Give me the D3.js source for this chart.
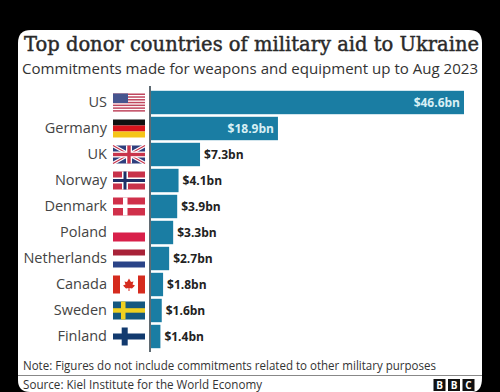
<!DOCTYPE html>
<html>
<head>
<meta charset="utf-8">
<script src="https://cdn.jsdelivr.net/npm/d3@7"></script>
<style>
html, body { margin: 0; background: #000; }
svg { display: block; }
text { font-family: "Open Sans", "Noto Sans", sans-serif; }
</style>
</head>
<body>
<svg width="500" height="392"></svg>
<script>
const countries = ["US", "Germany", "UK", "Norway", "Denmark", "Poland", "Netherlands", "Canada", "Sweden", "Finland"];
const values = [46.6, 18.9, 7.3, 4.1, 3.9, 3.3, 2.7, 1.8, 1.6, 1.4];
const valueLabels = ["$46.6bn", "$18.9bn", "$7.3bn", "$4.1bn", "$3.9bn", "$3.3bn", "$2.7bn", "$1.8bn", "$1.6bn", "$1.4bn"];

const svg = d3.select("svg");

// white card
svg.append("path")
  .attr("d", "M18,43 Q18,30 31,30 L469,30 Q482,30 482,43 L482,378 Q482,392 472,392 L30,392 Q18,392 18,380 Z")
  .attr("fill", "#fff");

svg.append("text").attr("x", 24).attr("y", 51)
  .attr("font-size", 20).attr("fill", "#2a2a2a")
  .attr("stroke", "#2a2a2a").attr("stroke-width", 0.45)
  .style("font-family", "'DejaVu Serif', serif")
  .attr("textLength", 455).attr("lengthAdjust", "spacingAndGlyphs")
  .text("Top donor countries of military aid to Ukraine");

svg.append("text").attr("x", 22).attr("y", 73.5)
  .attr("font-size", 14.5).attr("fill", "#333")
  .attr("textLength", 456).attr("lengthAdjust", "spacingAndGlyphs")
  .text("Commitments made for weapons and equipment up to Aug 2023");

const x = d3.scaleLinear().domain([0, 46.6]).range([151, 464]);
const y = d3.scaleBand().domain(countries).range([89.5, 349.5]).paddingInner(0.1).paddingOuter(0.05);

const rows = countries.map((c, i) => ({ country: c, value: values[i], label: valueLabels[i] }));

svg.selectAll(".bar")
  .data(rows)
  .join("rect")
  .attr("class", "bar")
  .attr("x", x(0))
  .attr("y", d => y(d.country))
  .attr("width", d => x(d.value) - x(0))
  .attr("height", y.bandwidth())
  .attr("fill", "#1a7da3");

svg.selectAll(".value")
  .data(rows)
  .join("text")
  .attr("class", "value")
  .attr("x", d => d.value > 10 ? x(d.value) - 4 : x(d.value) + 4)
  .attr("y", d => y(d.country) + y.bandwidth() / 2)
  .attr("dy", "0.35em")
  .attr("text-anchor", d => d.value > 10 ? "end" : "start")
  .attr("font-size", 12)
  .attr("font-weight", 700)
  .attr("fill", d => d.value > 10 ? "#d8f0f5" : "#222")
  .text(d => d.label);

const axis = svg.append("g")
  .attr("transform", "translate(150,0)")
  .call(d3.axisLeft(y).tickSize(0).tickPadding(43));
axis.select(".domain").attr("stroke", "#2a3a44").attr("stroke-width", 1.5).attr("d", "M0,86V352");
axis.selectAll("text").attr("font-size", 14.5).attr("fill", "#444")
  .style("font-family", "'Open Sans', sans-serif");

// flags, each drawn in a 32x18 box
const rect = (g, a, b, w, h, fill) => g.append("rect").attr("x", a).attr("y", b).attr("width", w).attr("height", h).attr("fill", fill);
const cross = (g, bg, vx, vw, hy, hh, fill) => {
  rect(g, vx, 0, vw, 18, fill);
  rect(g, 0, hy, 32, hh, fill);
};
const flags = {
  US: g => {
    d3.range(7).forEach(i => rect(g, 0, i * 2.77, 32, 1.5, "#c0475f"));
    rect(g, 0, 0, 15, 9.5, "#46558f");
  },
  Germany: g => { rect(g, 0, 0, 32, 6, "#111"); rect(g, 0, 6, 32, 6, "#d8141c"); rect(g, 0, 12, 32, 6, "#f5c518"); },
  UK: g => {
    rect(g, 0, 0, 32, 18, "#2f3f7e");
    g.append("path").attr("d", "M0,0L32,18M32,0L0,18").attr("stroke", "#fff").attr("stroke-width", 3.5);
    g.append("path").attr("d", "M0,0L32,18M32,0L0,18").attr("stroke", "#c8344c").attr("stroke-width", 1.2);
    rect(g, 13, 0, 6, 18, "#fff"); rect(g, 0, 6, 32, 6, "#fff");
    rect(g, 14.3, 0, 3.4, 18, "#c8344c"); rect(g, 0, 7.3, 32, 3.4, "#c8344c");
  },
  Norway: g => {
    rect(g, 0, 0, 32, 18, "#c8324a");
    cross(g, null, 9, 6, 6, 6, "#fff");
    cross(g, null, 10.5, 3, 7.5, 3, "#1f2f66");
  },
  Denmark: g => { rect(g, 0, 0, 32, 18, "#d0304a"); cross(g, null, 10, 4.5, 7, 3.5, "#fff"); },
  Poland: g => { rect(g, 0, 9, 32, 9, "#d8204a"); },
  Netherlands: g => { rect(g, 0, 0, 32, 6, "#a82238"); rect(g, 0, 12, 32, 6, "#2a4488"); },
  Canada: g => {
    rect(g, 0, 0, 7, 18, "#d52b1e"); rect(g, 25, 0, 7, 18, "#d52b1e");
    g.append("path").attr("d", "M16,3L18,6.5L20.5,6L19.5,9L22,10L19,13L16.5,12.5L16.5,15.5L15.5,15.5L15.5,12.5L13,13L10,10L12.5,9L11.5,6L14,6.5Z").attr("fill", "#d52b1e");
  },
  Sweden: g => { rect(g, 0, 0, 32, 18, "#15587f"); cross(g, null, 8, 4.5, 6.7, 4.5, "#f0d020"); },
  Finland: g => cross(g, null, 8.7, 6, 6, 6, "#123a6e")
};

countries.forEach(c => {
  const g = svg.append("g").attr("transform", `translate(113,${y(c) + y.bandwidth() / 2 - 9})`);
  flags[c](g);
});

svg.append("text").attr("x", 23).attr("y", 370)
  .attr("font-size", 12).attr("fill", "#333")
  .attr("textLength", 413).attr("lengthAdjust", "spacingAndGlyphs")
  .text("Note: Figures do not include commitments related to other military purposes");

svg.append("line").attr("x1", 18).attr("x2", 482).attr("y1", 375.5).attr("y2", 375.5)
  .attr("stroke", "#888").attr("stroke-width", 1);

svg.append("text").attr("x", 23).attr("y", 388.5)
  .attr("font-size", 12).attr("fill", "#333")
  .attr("textLength", 239).attr("lengthAdjust", "spacingAndGlyphs")
  .text("Source: Kiel Institute for the World Economy");

// BBC blocks
["B", "B", "C"].forEach((l, i) => {
  const bx = 433.5 + i * 14.5;
  rect(svg, bx, 379, 12, 12, "#111");
  svg.append("text").attr("x", bx + 6).attr("y", 389).attr("text-anchor", "middle")
    .attr("font-size", 10).attr("font-weight", 700).attr("fill", "#fff").text(l);
});
</script>
</body>
</html>
